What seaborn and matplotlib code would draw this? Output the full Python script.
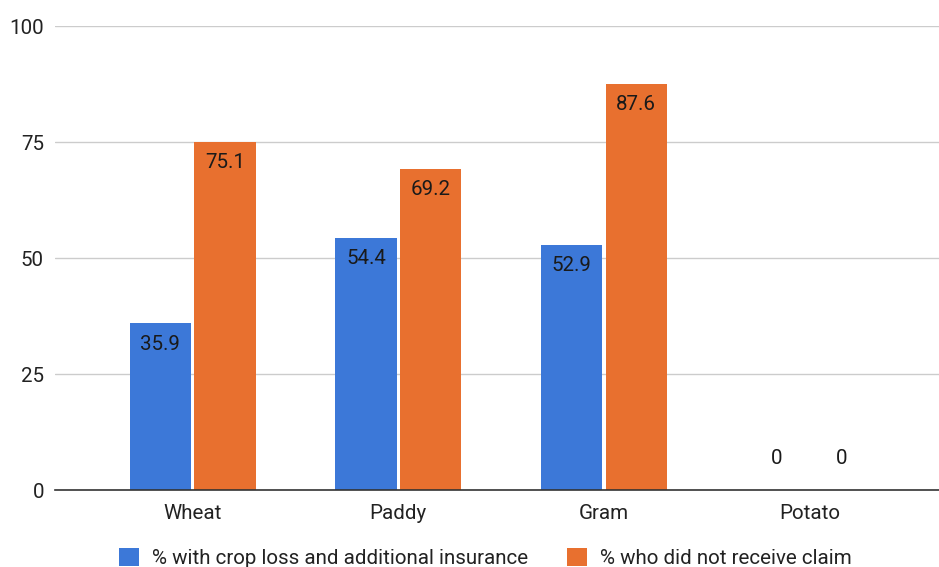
import matplotlib
matplotlib.use("Agg")
import matplotlib.pyplot as plt
import seaborn as sns
import pandas as pd

crops = ["Wheat", "Paddy", "Gram", "Potato"]
series_names = ["% with crop loss and additional insurance", "% who did not receive claim"]
crop_loss_insured = [35.9, 54.4, 52.9, 0]
no_claim_received = [75.1, 69.2, 87.6, 0]
y_ticks = [0, 25, 50, 75, 100]

colors = ["#3c78d8", "#e8702f"]
FS = 14.8

df = pd.DataFrame({
    "crop": crops * 2,
    "series": [series_names[0]] * len(crops) + [series_names[1]] * len(crops),
    "value": crop_loss_insured + no_claim_received,
})

sns.set_theme(style="white")
plt.rcParams["font.family"] = ["Roboto", "DejaVu Sans"]

fig = plt.figure(figsize=(9.39, 5.67), dpi=100)
ax = fig.add_axes([55 / 939, 1 - 490 / 567, 1 - 55 / 939, (490 - 26) / 567])

sns.barplot(data=df, x="crop", y="value", hue="series", order=crops,
            hue_order=series_names, palette=colors, width=0.63, gap=0.05,
            saturation=1, edgecolor="none", legend=True, ax=ax)

ax.set_ylim(0, 100)
ax.set_xlim(-0.67, 3.63)
ax.set_yticks(y_ticks)
ax.set_yticklabels([str(t) for t in y_ticks])
ax.yaxis.grid(True, color="#cccccc", linewidth=1)
ax.set_axisbelow(True)
for side in ["top", "right", "left"]:
    ax.spines[side].set_visible(False)
ax.spines["bottom"].set_color("#333333")
ax.spines["bottom"].set_linewidth(1.2)
ax.spines["bottom"].set_zorder(5)
ax.tick_params(axis="both", length=0, labelsize=FS, colors="#222222")
ax.tick_params(axis="x", pad=21)
ax.tick_params(axis="y", pad=8)
for lbl in ax.get_xticklabels():
    lbl.set_va("baseline")
ax.set_xlabel("")
ax.set_ylabel("")

# value labels: just inside the top of each bar, or above the baseline for zeros
for container in ax.containers:
    for patch, val in zip(container.patches, container.datavalues):
        cx = patch.get_x() + patch.get_width() / 2
        label = f"{val:g}"
        if val > 0:
            ax.annotate(label, (cx, val), xytext=(0, -15), textcoords="offset points",
                        ha="center", va="center", fontsize=FS, color="#1a1a1a")
        else:
            ax.annotate(label, (cx, 0), xytext=(0, 23), textcoords="offset points",
                        ha="center", va="center", fontsize=FS, color="#1a1a1a")

handles, labels = ax.get_legend_handles_labels()
ax.get_legend().remove()
fig.legend(handles, labels, loc="center", bbox_to_anchor=(485 / 939, 1 - 558 / 567),
           ncol=2, frameon=False, fontsize=FS, handlelength=1.0, handleheight=1.0,
           handletextpad=0.6, columnspacing=1.9, labelcolor="#222222")

fig.savefig("out.png", dpi=100)
